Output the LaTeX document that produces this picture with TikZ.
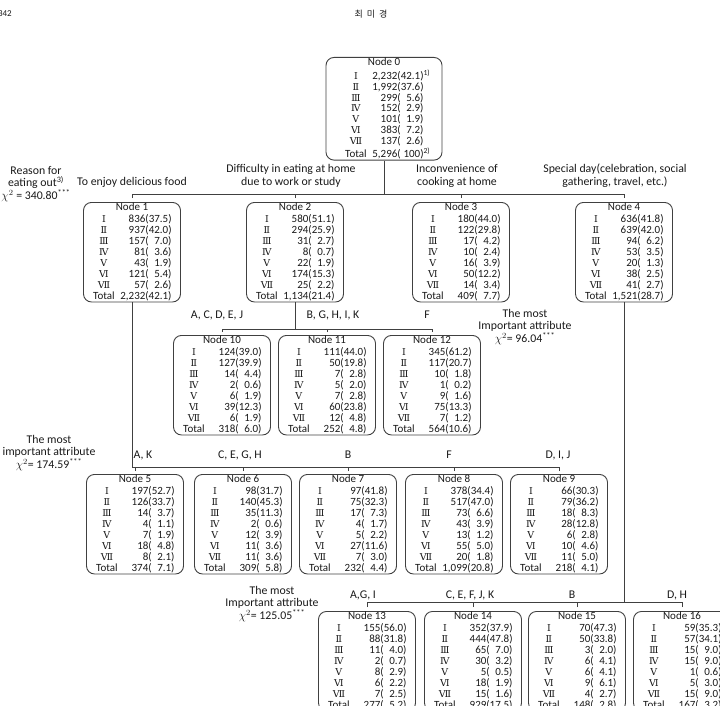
\documentclass[tikz,border=0pt]{standalone}
\usepackage{fontspec}
\setmainfont{Carlito}
\newfontfamily\krfont{Noto Sans CJK KR}
\newfontfamily\rnfont{DejaVu Serif}
\usetikzlibrary{calc}

\newcommand{\boxfont}{\fontsize{11}{9.6}\selectfont}
\newcommand{\labfont}{\fontsize{11.8}{12.6}\selectfont}
\newcommand{\headfont}{\fontsize{9}{11}\selectfont}
\newcommand{\rn}[1]{{\rnfont\fontsize{9.5}{9.6}\selectfont #1}}

% one line of a node: class, count, percent
\newcommand{\nrow}[3]{%
  \makebox[23pt]{#1}\hspace{4pt}\makebox[26pt][r]{#2}(\makebox[19.5pt][r]{#3})}
% node table: number, rows I..VII, total
\newcommand{\ndata}[9]{%
  \begin{tabular}{@{}c@{}}%
    Node #1\\[1.6pt]
    \nrow{\rn{Ⅰ}}#2\\ \nrow{\rn{Ⅱ}}#3\\ \nrow{\rn{Ⅲ}}#4\\ \nrow{\rn{Ⅳ}}#5\\
    \nrow{\rn{Ⅴ}}#6\\ \nrow{\rn{Ⅵ}}#7\\ \nrow{\rn{Ⅶ}}#8\\
    \nrow{Total}#9%
  \end{tabular}}

\begin{document}
\begin{tikzpicture}[
        x=1pt, y=-1pt,
        nbox/.style={
            draw=black!75, line width=0.9pt, rounded corners=8pt,
            anchor=north, minimum width=97pt, minimum height=97pt,
            inner sep=0pt, font=\boxfont, text=black!90
        },
        lab/.style={
            font=\labfont, text=black!90, align=center, inner sep=0pt
        },
        link/.style={draw=black!75, line width=0.7pt}
    ]

    \useasboundingbox (0,0) rectangle (720,706);
    \clip (0,0) rectangle (720,706);

    % Page head
    \node[lab, anchor=east, font=\headfont] (page) at (12,14) {342};
    \node[lab, font=\headfont\krfont] (author) at (371,14) {최\ \ 미\ \ 경};

    % Root
    \node[nbox, minimum width=116pt, minimum height=101pt] (n0) at (384,57)
        {\ndata{0}{{2,232}{42.1}\rlap{\textsuperscript{1)}}}{{1,992}{37.6}}{{299}{5.6}}{{152}{2.9}}{{101}{1.9}}{{383}{7.2}}{{137}{2.6}}{{5,296}{100}\rlap{\textsuperscript{2)}}}};

    % First split
    \node[nbox] (n1) at (132,202) {\ndata{1}{{836}{37.5}}{{937}{42.0}}{{157}{7.0}}{{81}{3.6}}{{43}{1.9}}{{121}{5.4}}{{57}{2.6}}{{2,232}{42.1}}};
    \node[nbox] (n2) at (295,202) {\ndata{2}{{580}{51.1}}{{294}{25.9}}{{31}{2.7}}{{8}{0.7}}{{22}{1.9}}{{174}{15.3}}{{25}{2.2}}{{1,134}{21.4}}};
    \node[nbox] (n3) at (461,202) {\ndata{3}{{180}{44.0}}{{122}{29.8}}{{17}{4.2}}{{10}{2.4}}{{16}{3.9}}{{50}{12.2}}{{14}{3.4}}{{409}{7.7}}};
    \node[nbox] (n4) at (624,202) {\ndata{4}{{636}{41.8}}{{639}{42.0}}{{94}{6.2}}{{53}{3.5}}{{20}{1.3}}{{38}{2.5}}{{41}{2.7}}{{1,521}{28.7}}};

    \node[lab] (why) at (36,184) {Reason for\\eating out\textsuperscript{3)}\\$\chi^2$ = 340.80\textsuperscript{***}};
    \node[lab] (l1) at (132,182) {To enjoy delicious food};
    \node[lab] (l2) at (291,176) {Difficulty in eating at home\\due to work or study};
    \node[lab] (l3) at (457,176) {Inconvenience of\\cooking at home};
    \node[lab] (l4) at (615,176) {Special day(celebration, social\\gathering, travel, etc.)};

    \coordinate (b0) at (n0.south |- 0,194);
    \draw[link] (n0.south) -- (b0);
    \foreach \c in {n1,n2,n3,n4}
        \draw[link] ([yshift=4pt]\c.north) |- (b0);

    % Split of node 2
    \node[nbox] (n10) at (222,335) {\ndata{10}{{124}{39.0}}{{127}{39.9}}{{14}{4.4}}{{2}{0.6}}{{6}{1.9}}{{39}{12.3}}{{6}{1.9}}{{318}{6.0}}};
    \node[nbox] (n11) at (327,335) {\ndata{11}{{111}{44.0}}{{50}{19.8}}{{7}{2.8}}{{5}{2.0}}{{7}{2.8}}{{60}{23.8}}{{12}{4.8}}{{252}{4.8}}};
    \node[nbox] (n12) at (432,335) {\ndata{12}{{345}{61.2}}{{117}{20.7}}{{10}{1.8}}{{1}{0.2}}{{9}{1.6}}{{75}{13.3}}{{7}{1.2}}{{564}{10.6}}};

    \node[lab] (l10) at (217,315) {A, C, D, E, J};
    \node[lab] (l11) at (333,315) {B, G, H, I, K};
    \node[lab] (l12) at (427,315) {F};
    \node[lab] (att2) at (525,327) {The most\\Important attribute\\$\chi^2$= 96.04\textsuperscript{***}};

    \coordinate (b2) at (n2.south |- 0,329);
    \draw[link] (n2.south) -- (b2);
    \foreach \c in {n10,n11,n12}
        \draw[link] ([yshift=3pt]\c.north) |- (b2);

    % Split of node 1
    \node[nbox] (n5) at (135,474) {\ndata{5}{{197}{52.7}}{{126}{33.7}}{{14}{3.7}}{{4}{1.1}}{{7}{1.9}}{{18}{4.8}}{{8}{2.1}}{{374}{7.1}}};
    \node[nbox] (n6) at (243,474) {\ndata{6}{{98}{31.7}}{{140}{45.3}}{{35}{11.3}}{{2}{0.6}}{{12}{3.9}}{{11}{3.6}}{{11}{3.6}}{{309}{5.8}}};
    \node[nbox] (n7) at (348,474) {\ndata{7}{{97}{41.8}}{{75}{32.3}}{{17}{7.3}}{{4}{1.7}}{{5}{2.2}}{{27}{11.6}}{{7}{3.0}}{{232}{4.4}}};
    \node[nbox] (n8) at (454,474) {\ndata{8}{{378}{34.4}}{{517}{47.0}}{{73}{6.6}}{{43}{3.9}}{{13}{1.2}}{{55}{5.0}}{{20}{1.8}}{{1,099}{20.8}}};
    \node[nbox] (n9) at (559,474) {\ndata{9}{{66}{30.3}}{{79}{36.2}}{{18}{8.3}}{{28}{12.8}}{{6}{2.8}}{{10}{4.6}}{{11}{5.0}}{{218}{4.1}}};

    \node[lab] (l5) at (143,455) {A, K};
    \node[lab] (l6) at (240,455) {C, E, G, H};
    \node[lab] (l7) at (348,455) {B};
    \node[lab] (l8) at (449,455) {F};
    \node[lab] (l9) at (558,455) {D, I, J};
    \node[lab] (att1) at (49,453) {The most\\important attribute\\$\chi^2$= 174.59\textsuperscript{***}};

    \coordinate (b1) at (n1.south |- 0,467);
    \draw[link] (n1.south) -- (b1);
    \foreach \c in {n5,n6,n7,n8,n9}
        \draw[link] ([yshift=3pt]\c.north) |- (b1);

    % Split of node 4
    \node[nbox] (n13) at (367,611) {\ndata{13}{{155}{56.0}}{{88}{31.8}}{{11}{4.0}}{{2}{0.7}}{{8}{2.9}}{{6}{2.2}}{{7}{2.5}}{{277}{5.2}}};
    \node[nbox] (n14) at (473,611) {\ndata{14}{{352}{37.9}}{{444}{47.8}}{{65}{7.0}}{{30}{3.2}}{{5}{0.5}}{{18}{1.9}}{{15}{1.6}}{{929}{17.5}}};
    \node[nbox] (n15) at (577,611) {\ndata{15}{{70}{47.3}}{{50}{33.8}}{{3}{2.0}}{{6}{4.1}}{{6}{4.1}}{{9}{6.1}}{{4}{2.7}}{{148}{2.8}}};
    \node[nbox] (n16) at (682,611) {\ndata{16}{{59}{35.3}}{{57}{34.1}}{{15}{9.0}}{{15}{9.0}}{{1}{0.6}}{{5}{3.0}}{{15}{9.0}}{{167}{3.2}}};

    \node[lab] (l13) at (363,595) {A,G, I};
    \node[lab] (l14) at (470,595) {C, E, F, J, K};
    \node[lab] (l15) at (572,595) {B};
    \node[lab] (l16) at (677,595) {D, H};
    \node[lab] (att4) at (272,604) {The most\\Important attribute\\$\chi^2$= 125.05\textsuperscript{***}};

    \coordinate (b4) at (n4.south |- 0,602);
    \draw[link] (n4.south) -- (b4);
    \foreach \c in {n13,n14,n15,n16}
        \draw[link] ([yshift=4pt]\c.north) |- (b4);

\end{tikzpicture}
\end{document}
